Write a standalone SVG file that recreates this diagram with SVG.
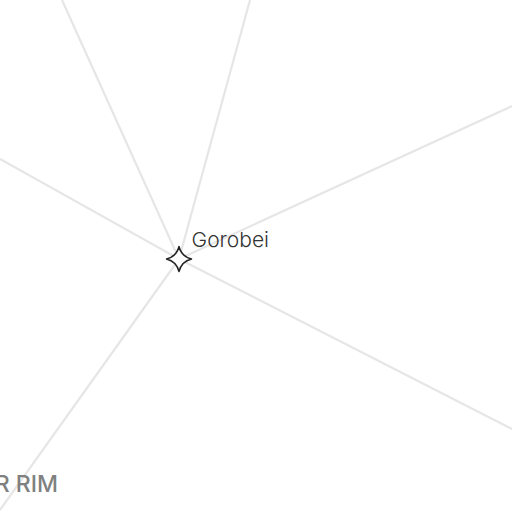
<svg xmlns="http://www.w3.org/2000/svg" width="512" height="512" viewBox="0 0 512 512">
<style>
.c{stroke:#e6e6e6;stroke-width:2.2;fill:none}
.l{font-family:"Inter","Lato","Liberation Sans",sans-serif}
</style>
<rect width="512" height="512" fill="#fff"/>
<g id="connectors">
<line class="c" x1="179" y1="259" x2="62" y2="0"/>
<line class="c" x1="179" y1="259" x2="250" y2="0"/>
<line class="c" x1="179" y1="259" x2="512" y2="106"/>
<line class="c" x1="179" y1="259" x2="512" y2="429"/>
<line class="c" x1="179" y1="259" x2="0" y2="159"/>
<line class="c" x1="179" y1="259" x2="0" y2="510"/>
</g>
<g id="gorobei">
<path d="M179 246.500Q181.500 256.500 191.500 259Q181.500 261.500 179 271.500Q176.500 261.500 166.500 259Q176.500 256.500 179 246.500Z" fill="#fdfdfd" stroke="#222" stroke-width="1.500" stroke-linejoin="round"/>
<text class="l" x="191.500" y="246.500" font-size="20.500" font-weight="300" fill="#333" textLength="77.500" lengthAdjust="spacingAndGlyphs">Gorobei</text>
</g>
<g id="rim-label">
<text class="l" x="58" y="492" font-size="23" font-weight="500" fill="#808080" text-anchor="end">R RIM</text>
</g>
</svg>
